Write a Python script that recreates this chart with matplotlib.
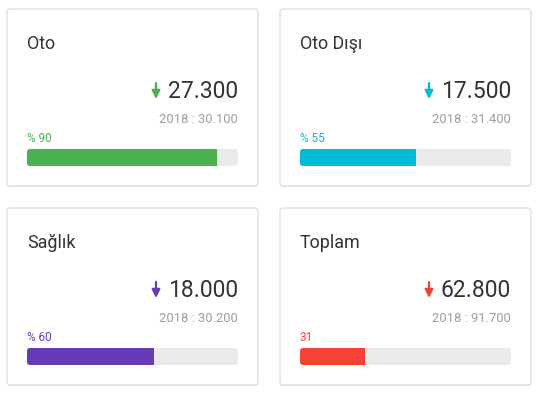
import matplotlib
matplotlib.use("Agg")
from matplotlib import pyplot as plt
from matplotlib.patches import FancyBboxPatch

# card data
titles = ["Oto", "Oto Dışı", "Sağlık", "Toplam"]
current = [27300, 17500, 18000, 62800]
previous = [30100, 31400, 30200, 91700]
ratio = [90, 55, 60, 31]
ratio_labels = ["% 90", "% 55", "% 60", "31"]
colors = ["#4CAF50", "#00BCD4", "#673AB7", "#F44336"]

W, H = 540, 394
plt.rcParams['font.family'] = ['Roboto', 'DejaVu Sans']

def fmt(v):
    return f"{v:,}".replace(",", ".")

fig = plt.figure(figsize=(W / 100, H / 100), dpi=100)
fig.patch.set_facecolor("white")
bg = fig.add_axes([0, 0, 1, 1])
bg.set_xlim(0, W)
bg.set_ylim(H, 0)
bg.axis('off')

card_w, card_h = 251, 177
bar_w, bar_h = 211, 17
origins = [(7, 9), (280, 9), (7, 208), (280, 208)]

for i, (x0, y0) in enumerate(origins):
    c = colors[i]
    # shadow + card
    bg.add_patch(FancyBboxPatch((x0, y0 + 1), card_w, card_h,
                                boxstyle="round,pad=0,rounding_size=3",
                                fc="#e6e6e6", ec="none", zorder=1))
    bg.add_patch(FancyBboxPatch((x0, y0), card_w, card_h,
                                boxstyle="round,pad=0,rounding_size=3",
                                fc="white", ec="#dddddd", lw=0.9, zorder=2))

    right = x0 + card_w - 20
    bg.text(x0 + 20, y0 + 35, titles[i], fontsize=12.9, color="#333333",
            va='center', ha='left', zorder=3)
    bg.text(right, y0 + 89, fmt(current[i]), fontsize=16.5, color="#333333",
            va='baseline', ha='right', zorder=3)
    bg.annotate('', xy=(right - 82, y0 + 90), xytext=(right - 82, y0 + 74),
                arrowprops=dict(arrowstyle='-|>', color=c, lw=1.6,
                                mutation_scale=12, shrinkA=0, shrinkB=0),
                zorder=3)
    bg.text(right, y0 + 114, "2018 : " + fmt(previous[i]), fontsize=9.4,
            color="#9e9e9e", va='baseline', ha='right', zorder=3)
    bg.text(x0 + 20, y0 + 133, ratio_labels[i], fontsize=8.5, color=c,
            va='baseline', ha='left', zorder=3)

    # progress bar
    bx = fig.add_axes([(x0 + 20) / W, 1 - (y0 + 157) / H, bar_w / W, bar_h / H])
    bx.set_xlim(0, 100)
    bx.set_ylim(0, 1)
    bx.axis('off')
    track = FancyBboxPatch((0, 0), 100, 1,
                           boxstyle="round,pad=0,rounding_size=1.4",
                           mutation_aspect=(1 / bar_h) / (100 / bar_w),
                           fc="#ebebeb", ec="none")
    bx.add_patch(track)
    bars = bx.barh(0.5, ratio[i], height=1, color=c)
    for b in bars:
        b.set_clip_path(track)

fig.savefig("out.png", dpi=100, facecolor="white")
